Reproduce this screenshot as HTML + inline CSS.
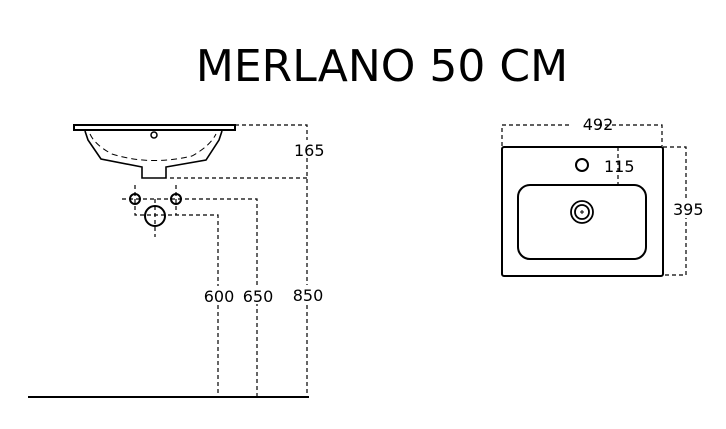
<!DOCTYPE html>
<html><head><style>
html,body{margin:0;padding:0;background:#fff;width:726px;height:429px;overflow:hidden}
svg{display:block}
text{font-family:"DejaVu Sans","Liberation Sans",sans-serif;fill:#000}
</style></head><body>
<svg width="726" height="429" viewBox="0 0 726 429">
<text x="382" y="81" font-size="44" text-anchor="middle" font-family="Liberation Sans,sans-serif">MERLANO 50 CM</text>
<g fill="none" stroke="#000">
<path d="M74 125 H235 V130 H74 Z" stroke-width="2"/>
<path d="M85 131 L88 140 L101 159 L142 167 V178 H166 V167 L206 160 L219 140 L222 131" stroke-width="1.6"/>
<path d="M90 134 Q95 145 112 154 Q150 166 192 156 Q210 146 216 134" stroke-width="1" stroke-dasharray="6,4"/>
<circle cx="154" cy="135" r="3" stroke-width="1.5"/>
<circle cx="135" cy="199" r="5" stroke-width="2"/>
<circle cx="176" cy="199" r="5" stroke-width="2"/>
<circle cx="155" cy="216" r="10" stroke-width="2"/>
<g stroke-width="1.2" stroke-dasharray="4,3">
<path d="M235 125 H307 V397"/>
<path d="M170 178 H307"/>
<path d="M122 199 H257 V397"/>
<path d="M135 185 V215 H218 V397"/>
<path d="M176 185 V215"/>
<path d="M155 199 V237"/>
</g>
<path d="M28 397 H309" stroke-width="2"/>
<rect x="502" y="147" width="161" height="129" rx="2" stroke-width="2"/>
<rect x="518" y="185" width="128" height="74" rx="12" stroke-width="2"/>
<circle cx="582" cy="165" r="6" stroke-width="2"/>
<circle cx="582" cy="212" r="11" stroke-width="1.8"/>
<circle cx="582" cy="212" r="7" stroke-width="1.8"/>
<path d="M580 212 H584 M582 210 V214" stroke-width="1"/>
<g stroke-width="1.2" stroke-dasharray="4,3">
<path d="M502 146 V125 H570 M598 125 H662 V146"/>
<path d="M663 147 H686 V275 H663"/>
<path d="M618 147 V185"/>
</g>
</g>
<g font-size="16">
<rect x="292" y="140" width="32" height="18" fill="#fff"/>
<rect x="204" y="286" width="64" height="18" fill="#fff"/>
<rect x="294" y="285" width="30" height="18" fill="#fff"/>
<rect x="670" y="200" width="34" height="18" fill="#fff"/>
<text x="598" y="130" text-anchor="middle">492</text>
<text x="604" y="172">115</text>
<text x="673" y="215">395</text>
<text x="294" y="156">165</text>
<text x="219" y="302" text-anchor="middle">600</text>
<text x="258" y="302" text-anchor="middle">650</text>
<text x="308" y="301" text-anchor="middle">850</text>
</g>
</svg>
</body></html>
